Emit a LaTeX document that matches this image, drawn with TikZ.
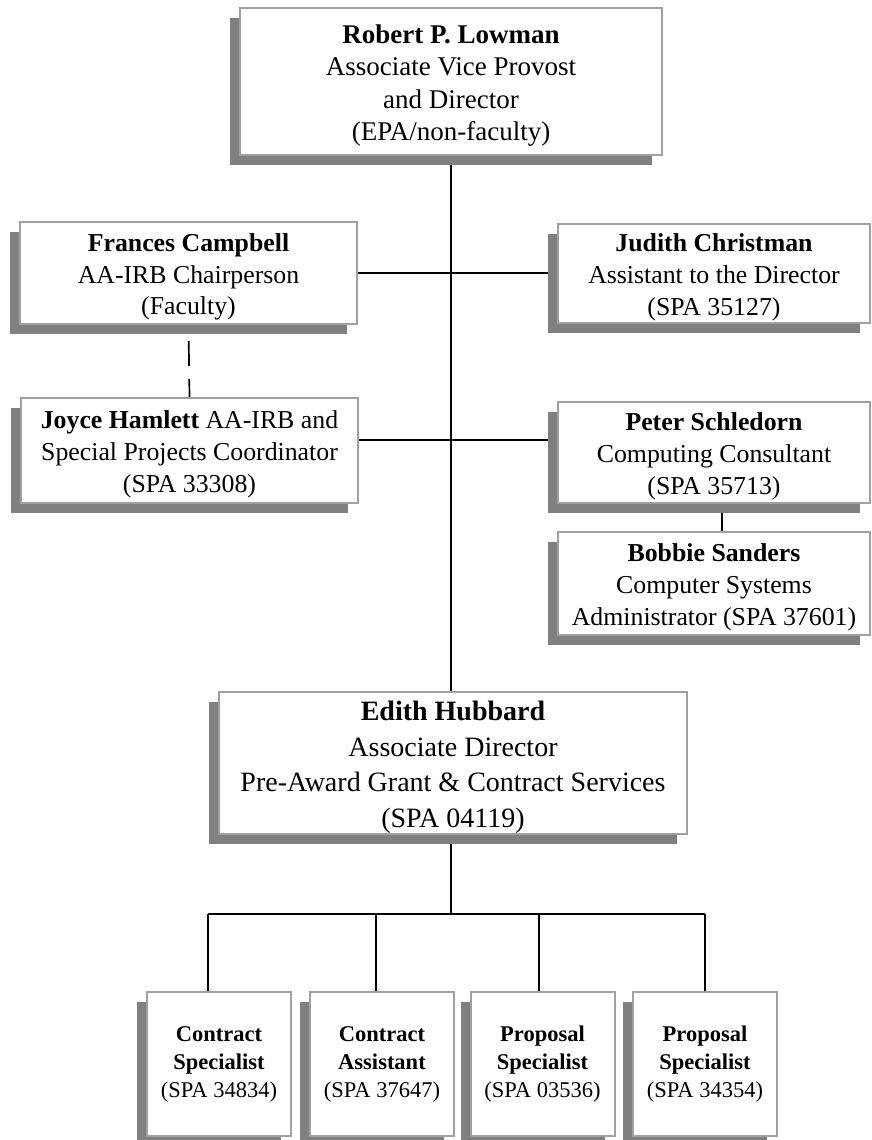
\documentclass[tikz,border=0pt]{standalone}
\usepackage{fontspec}
\setmainfont{Liberation Serif}
\usetikzlibrary{shadows,backgrounds}
\definecolor{edgegray}{HTML}{A0A0A0}
\definecolor{shadegray}{HTML}{808080}
\pgfdeclarelayer{paper}
\pgfsetlayers{paper,background,main}
% taller first line so the text block sits a little lower in the box
\newcommand{\firstline}{\rule{0pt}{1.0em}}
\begin{document}
\begin{tikzpicture}[x=1pt,y=-1pt,
  orgbox/.style={draw=edgegray, line width=2pt, fill=white, align=center, inner sep=0pt,
    drop shadow={shadow xshift=-10pt, shadow yshift=-10pt, fill=shadegray, opacity=1}},
  topfont/.style={font=\fontsize{27}{32.5}\selectfont},
  midfont/.style={font=\fontsize{25.8}{31.8}\selectfont},
  bigfont/.style={font=\fontsize{28}{35.5}\selectfont},
  smallfont/.style={font=\fontsize{22.5}{28}\selectfont},
  sidebox/.style={orgbox, midfont, minimum width=337pt},
  rightbox/.style={orgbox, midfont, minimum width=312pt},
  staffbox/.style={orgbox, smallfont, minimum width=144pt, minimum height=144pt},
  link/.style={line width=1.7pt, black},
  dotlink/.style={link, dash pattern=on 0pt off 16pt on 25pt off 13pt on 40pt}
]
\useasboundingbox (0,0) rectangle (872,1140);
\begin{pgfonlayer}{paper}
  \fill[white] (0,0) rectangle (872,1140);
\end{pgfonlayer}

% director
\node[orgbox, topfont, minimum width=422pt, minimum height=147pt] (low) at (451,81.5)
  {\firstline\textbf{Robert P. Lowman}\\Associate Vice Provost\\and Director\\(EPA/non-faculty)};

% left column
\node[sidebox, minimum height=102pt] (fran) at (188.5,273)
  {\firstline\textbf{Frances Campbell}\\AA-IRB Chairperson\\(Faculty)};
\node[sidebox, minimum height=105pt] (joy) at (189.5,450.5)
  {\firstline\textbf{Joyce Hamlett} AA-IRB and\\Special Projects Coordinator\\(SPA 33308)};

% right column
\node[rightbox, minimum height=99pt] (jud) at (714,273.5)
  {\firstline\textbf{Judith Christman}\\Assistant to the Director\\(SPA 35127)};
\node[rightbox, minimum height=101pt] (pet) at (714,452.5)
  {\firstline\textbf{Peter Schledorn}\\Computing Consultant\\(SPA 35713)};
\node[rightbox, minimum height=103pt] (bob) at (714,583.5)
  {\firstline\textbf{Bobbie Sanders}\\Computer Systems\\Administrator (SPA 37601)};

% associate director
\node[orgbox, bigfont, minimum width=468pt, minimum height=142pt] (edi) at (453,763)
  {\firstline\textbf{Edith Hubbard}\\Associate Director\\Pre-Award Grant \& Contract Services\\(SPA 04119)};

% staff row
\node[staffbox] (s1) at (219,1064)   {\textbf{Contract}\\\textbf{Specialist}\\(SPA 34834)};
\node[staffbox] (s2) at (382,1064)   {\textbf{Contract}\\\textbf{Assistant}\\(SPA 37647)};
\node[staffbox] (s3) at (542.5,1064) {\textbf{Proposal}\\\textbf{Specialist}\\(SPA 03536)};
\node[staffbox] (s4) at (705,1064)   {\textbf{Proposal}\\\textbf{Specialist}\\(SPA 34354)};

% connector guide points
\coordinate (row2) at (0,440);
\coordinate (itline) at (722,0);
\coordinate (bus) at (0,914);
\coordinate (t1) at (208,914);
\coordinate (t2) at (376,914);
\coordinate (t3) at (539,914);
\coordinate (t4) at (705,914);

\begin{pgfonlayer}{background}
  \draw[link] (low.south) -- (low.south |- edi.north);
  \draw[link] (fran.east) -- (fran.east -| jud.west);
  \draw[link] (joy.east |- row2) -- (pet.west |- row2);
  \draw[dotlink] (fran.south) -- (joy.north);
  \draw[link] (itline |- pet.south) -- (itline |- bob.north);
  \draw[link] (low.south |- edi.south) -- (low.south |- bus);
  \draw[link] (t1) -- (t4);
  \draw[link] (t1) -- (t1 |- s1.north);
  \draw[link] (t2) -- (t2 |- s2.north);
  \draw[link] (t3) -- (t3 |- s3.north);
  \draw[link] (t4) -- (t4 |- s4.north);
\end{pgfonlayer}
\end{tikzpicture}
\end{document}
